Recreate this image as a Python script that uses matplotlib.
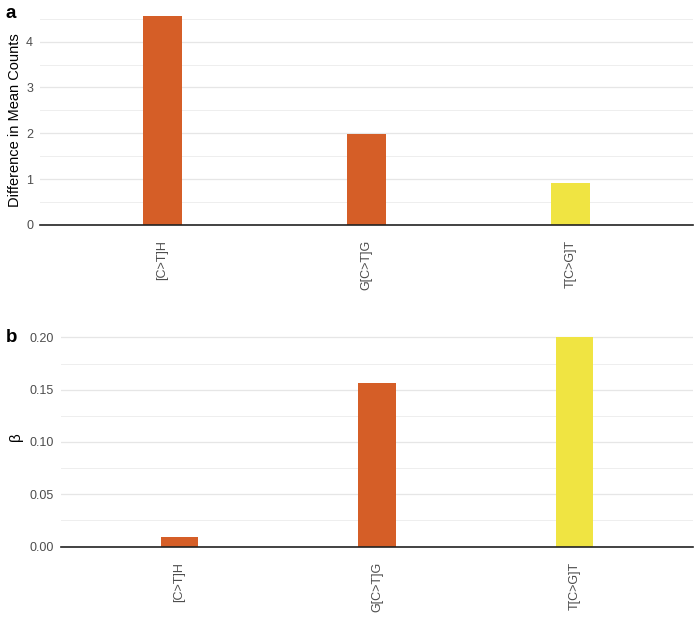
import matplotlib
matplotlib.use("Agg")
import matplotlib.pyplot as plt
import numpy as np

categories = ["[C>T]H", "G[C>T]G", "T[C>G]T"]
diff_mean_counts = [4.57, 1.99, 0.92]
beta = [0.0088, 0.156, 0.200]
bar_colors = ["#D55E27", "#D55E27", "#F0E442"]

W, H = 700, 619
fig = plt.figure(figsize=(W / 100, H / 100), dpi=100)
plt.rcParams['font.family'] = ['Liberation Sans', 'DejaVu Sans']

def px_axes(left, right, top, bottom):
    return fig.add_axes([left / W, 1 - bottom / H, (right - left) / W, (bottom - top) / H])

def style(ax, ymax, major, minor):
    x = np.arange(len(categories))
    ax.set_xlim(-0.6, len(categories) - 0.4)
    ax.set_ylim(0, ymax)
    ax.set_yticks(major)
    ax.set_yticks(minor, minor=True)
    ax.yaxis.grid(True, which='major', color='#e6e6e6', linewidth=0.9)
    ax.yaxis.grid(True, which='minor', color='#eeeeee', linewidth=0.7)
    ax.set_axisbelow(True)
    for s in ['top', 'right', 'left']:
        ax.spines[s].set_visible(False)
    ax.spines['bottom'].set_color('#222222')
    ax.spines['bottom'].set_linewidth(1.2)
    ax.tick_params(axis='both', which='both', length=0, colors='#4d4d4d', labelsize=9)
    ax.tick_params(axis='y', pad=5)
    ax.set_xticks(x)
    ax.set_xticklabels(categories, rotation=90, va='top', ha='center')
    ax.tick_params(axis='x', pad=11)

# Panel a
ax1 = px_axes(40, 693, 5, 225)
ax1.bar(np.arange(len(categories)), diff_mean_counts, width=0.19, color=bar_colors, zorder=2)
style(ax1, 4.8, [0, 1, 2, 3, 4], [0.5, 1.5, 2.5, 3.5, 4.5])
ax1.set_ylabel("Difference in Mean Counts", fontsize=10.5, color='black')
ax1.yaxis.set_label_coords((22 - 40) / 653, (225 - 120) / 220)
fig.text(6 / W, 1 - 13 / H, "a", fontsize=13.5, fontweight='bold', va='center', ha='left')

# Panel b
ax2 = px_axes(61, 693, 327, 546.5)
ax2.bar(np.arange(len(categories)), beta, width=0.19, color=bar_colors, zorder=2)
style(ax2, 0.21, [0, 0.05, 0.10, 0.15, 0.20], [0.025, 0.075, 0.125, 0.175])
ax2.set_yticklabels(["0.00", "0.05", "0.10", "0.15", "0.20"])
ax2.set_ylabel("β", fontsize=11, color='black', labelpad=5)
fig.text(6 / W, 1 - 337 / H, "b", fontsize=13.5, fontweight='bold', va='center', ha='left')

fig.savefig("out.png", dpi=100)
